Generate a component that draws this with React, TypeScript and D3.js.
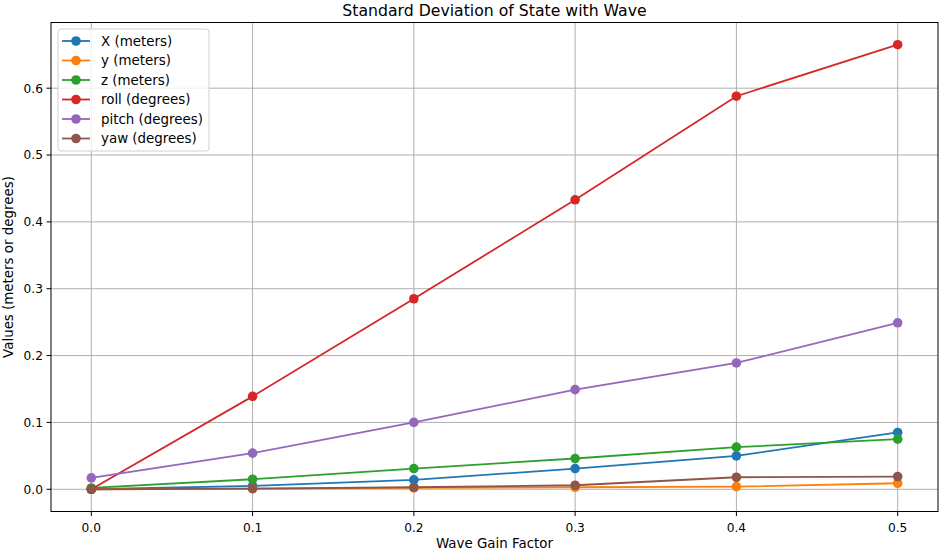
import React from "react";
import * as d3 from "d3";

// wave gain factor on the x axis
const gains = [0.0, 0.1, 0.2, 0.3, 0.4, 0.5];

// standard deviation of each state
const xMeters = [0.0, 0.005, 0.014, 0.031, 0.05, 0.085];
const yMeters = [0.0, 0.001, 0.002, 0.003, 0.004, 0.009];
const zMeters = [0.002, 0.015, 0.031, 0.046, 0.063, 0.075];
const rollDeg = [0.0, 0.139, 0.285, 0.433, 0.588, 0.665];
const pitchDeg = [0.017, 0.054, 0.1, 0.149, 0.189, 0.249];
const yawDeg = [0.0, 0.001, 0.003, 0.006, 0.018, 0.019];

const seriesNames = ["X (meters)", "y (meters)", "z (meters)", "roll (degrees)", "pitch (degrees)", "yaw (degrees)"];
const seriesValues = [xMeters, yMeters, zMeters, rollDeg, pitchDeg, yawDeg];
const colors = ["#1f77b4", "#ff7f0e", "#2ca02c", "#d62728", "#9467bd", "#8c564b"];

const xTicks = [0.0, 0.1, 0.2, 0.3, 0.4, 0.5];
const yTicks = [0.0, 0.1, 0.2, 0.3, 0.4, 0.5, 0.6];

const W = 941;
const H = 551;
const margin = { top: 22.5, right: 3, bottom: 39.5, left: 51 };
const font = "DejaVu Sans, sans-serif";

export default function App() {
  const x = d3.scaleLinear().domain([-0.025, 0.525]).range([margin.left, W - margin.right]);
  const y = d3.scaleLinear().domain([-0.03325, 0.69825]).range([H - margin.bottom, margin.top]);

  const line = d3.line<number>()
    .x((_, i) => x(gains[i]))
    .y(d => y(d));

  const left = margin.left;
  const right = W - margin.right;
  const top = margin.top;
  const bottom = H - margin.bottom;

  return (
    <svg width={W} height={H} style={{ position: "absolute", left: 0, top: 0, fontFamily: font }}>
      <rect width={W} height={H} fill="#fff" />

      {/* grid */}
      <g stroke="#b0b0b0" strokeWidth={1}>
        {xTicks.map(t => (
          <line key={"gx" + t} x1={x(t)} x2={x(t)} y1={top} y2={bottom} />
        ))}
        {yTicks.map(t => (
          <line key={"gy" + t} x1={left} x2={right} y1={y(t)} y2={y(t)} />
        ))}
      </g>

      {/* series */}
      {seriesValues.map((vals, i) => (
        <g key={seriesNames[i]}>
          <path d={line(vals) ?? ""} fill="none" stroke={colors[i]} strokeWidth={1.8} />
          {vals.map((v, j) => (
            <circle key={j} cx={x(gains[j])} cy={y(v)} r={4.8} fill={colors[i]} />
          ))}
        </g>
      ))}

      {/* frame */}
      <rect x={left} y={top} width={right - left} height={bottom - top} fill="none" stroke="#000" strokeWidth={1} />

      {/* x ticks */}
      {xTicks.map(t => (
        <g key={"tx" + t}>
          <line x1={x(t)} x2={x(t)} y1={bottom} y2={bottom + 4.5} stroke="#000" strokeWidth={1} />
          <text x={x(t)} y={bottom + 20.5} textAnchor="middle" fontSize={12.2} fill="#000">
            {d3.format(".1f")(t)}
          </text>
        </g>
      ))}

      {/* y ticks */}
      {yTicks.map(t => (
        <g key={"ty" + t}>
          <line x1={left - 4.5} x2={left} y1={y(t)} y2={y(t)} stroke="#000" strokeWidth={1} />
          <text x={left - 8} y={y(t)} dy="0.36em" textAnchor="end" fontSize={12.2} fill="#000">
            {d3.format(".1f")(t)}
          </text>
        </g>
      ))}

      <text x={(left + right) / 2} y={15.5} textAnchor="middle" fontSize={15.7} fill="#000">
        Standard Deviation of State with Wave
      </text>
      <text x={(left + right) / 2} y={548} textAnchor="middle" fontSize={13.4} fill="#000">
        Wave Gain Factor
      </text>
      <text transform={`translate(13,${(top + bottom) / 2}) rotate(-90)`} textAnchor="middle" fontSize={13.4} fill="#000">
        Values (meters or degrees)
      </text>

      {/* legend */}
      <g>
        <rect x={58} y={29} width={151} height={122} rx={3} fill="#fff" fillOpacity={0.8} stroke="#d0d0d0" strokeWidth={1} />
        {seriesNames.map((name, i) => {
          const ly = 41 + i * 19.5;
          return (
            <g key={"lg" + name}>
              <line x1={62} x2={90} y1={ly} y2={ly} stroke={colors[i]} strokeWidth={1.8} />
              <circle cx={76} cy={ly} r={4.8} fill={colors[i]} />
              <text x={101} y={ly} dy="0.36em" fontSize={13.4} fill="#000">{name}</text>
            </g>
          );
        })}
      </g>
    </svg>
  );
}
